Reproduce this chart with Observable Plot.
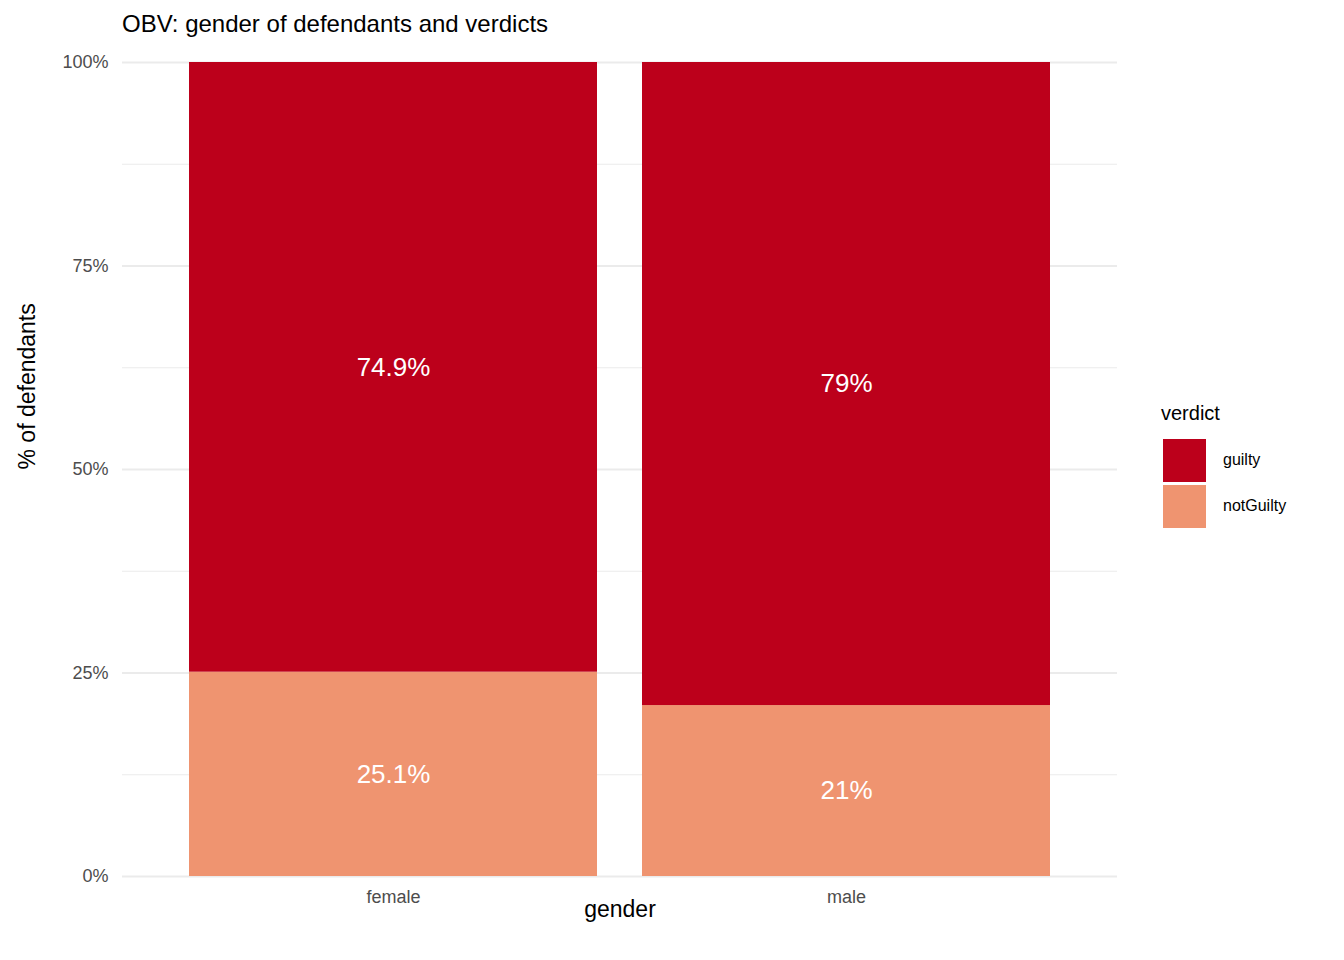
<!DOCTYPE html>
<html><head><meta charset="utf-8">
<script src="https://cdn.jsdelivr.net/npm/d3@7"></script>
<script src="https://cdn.jsdelivr.net/npm/@observablehq/plot@0.6"></script>
<style>
body{margin:0;background:#fff;font-family:"Liberation Sans",Arial,sans-serif;}
#wrap{position:relative;width:1344px;height:960px;}
#title{position:absolute;left:122px;top:10px;font-size:24px;color:#000;}
#legend{position:absolute;left:1161px;top:402px;}
.lt{font-size:20px;margin-bottom:12px;}
.li{display:flex;align-items:center;height:46px;font-size:16px;}
.sw{width:43px;height:43px;margin-right:17px;margin-left:2px;}
#chart{position:absolute;left:0;top:0;}
</style></head><body>
<div id="wrap">
<div id="chart"></div>
<div id="title">OBV: gender of defendants and verdicts</div>
<div id="legend"></div>
</div>
<script>
const genders = ["female","male"];
const verdicts = ["notGuilty","guilty"];
const notGuiltyPct = [25.1, 21];
const guiltyPct = [74.9, 79];
const labels = {female:["25.1%","74.9%"], male:["21%","79%"]};
const colors = {guilty:"#bc001b", notGuilty:"#ef9470"};

const data = [];
genders.forEach((g,i)=>{
  data.push({gender:g, verdict:"notGuilty", value:notGuiltyPct[i], label:labels[g][0]});
  data.push({gender:g, verdict:"guilty", value:guiltyPct[i], label:labels[g][1]});
});
const minor = [12.5,37.5,62.5,87.5];
const major = [0,25,50,75,100];

const plot = Plot.plot({
  width:1344, height:960,
  marginTop:62, marginBottom:84, marginLeft:122, marginRight:227,
  style:{fontFamily:"Liberation Sans, Arial, sans-serif", fontSize:"15px", color:"#4d4d4d"},
  x:{domain:genders, paddingInner:0.1, paddingOuter:0.148, label:null},
  y:{domain:[0,100], label:null},
  color:{domain:["guilty","notGuilty"], range:[colors.guilty, colors.notGuilty]},
  marks:[
    Plot.ruleY(minor,{stroke:"#ebebeb", strokeWidth:1}),
    Plot.ruleY(major,{stroke:"#ebebeb", strokeWidth:2}),
    Plot.barY(data, Plot.stackY({x:"gender", y:"value", fill:"verdict", order:null})),
    Plot.text(data, Plot.stackY({x:"gender", y:"value", text:"label", fill:"white", fontSize:26, order:null})),
    Plot.axisY(major,{tickFormat:d=>d+"%", tickSize:0, tickPadding:14, fontSize:18, fill:"#4d4d4d", label:null}),
    Plot.axisX({tickSize:0, tickPadding:14, fontSize:18, fill:"#4d4d4d", label:null}),
    Plot.text(["gender"],{frameAnchor:"bottom", dy:40, fontSize:23, fill:"#000"}),
    Plot.text(["% of defendants"],{frameAnchor:"left", dx:-95, rotate:-90, fontSize:23, fill:"#000"})
  ]
});
document.getElementById("chart").appendChild(plot);
const lg = document.getElementById("legend");
lg.innerHTML = '<div class="lt">verdict</div>' +
  ["guilty","notGuilty"].map(v=>`<div class="li"><div class="sw" style="background:${colors[v]}"></div>${v}</div>`).join("");
</script>
</body></html>
